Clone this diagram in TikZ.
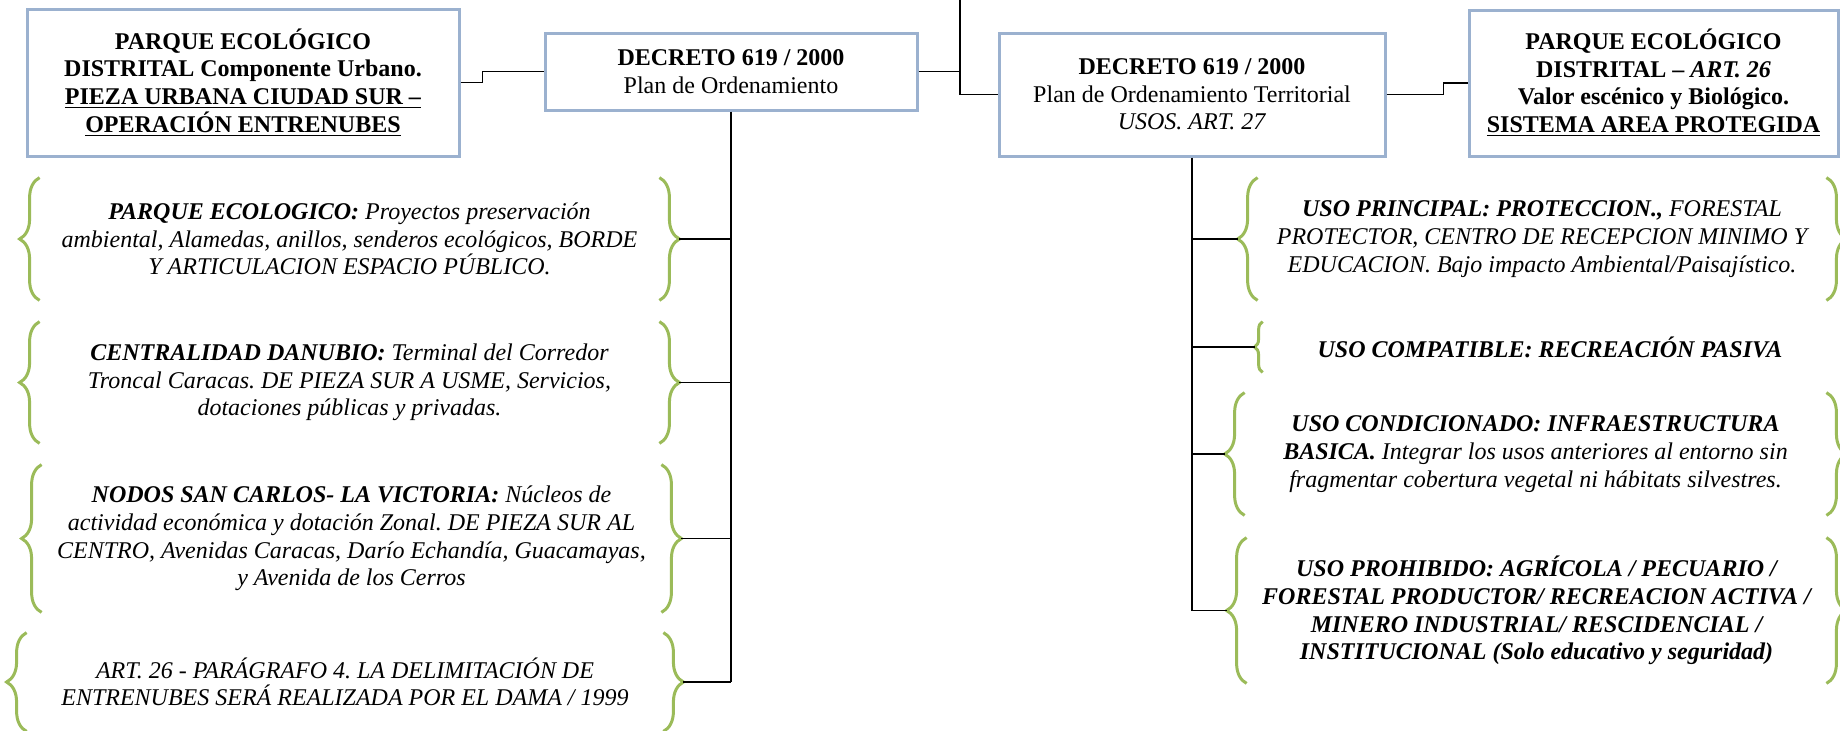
\documentclass[tikz,border=0pt]{standalone}
\usepackage{fontspec}
\setmainfont{Liberation Serif}
\usetikzlibrary{decorations.pathreplacing}
\definecolor{bordeazul}{HTML}{9BB1CF}
\definecolor{llaveverde}{HTML}{9BBB59}
\frenchspacing

\begin{document}
\begin{tikzpicture}[x=0.5pt,y=-0.5pt,
	font=\fontsize{12}{13.8}\selectfont,
	caja/.style={draw=bordeazul,line width=1.5pt,align=center,inner sep=0pt},
	nota/.style={align=center,inner sep=0pt,font=\fontsize{12}{13.8}\selectfont\itshape},
	llave/.style={draw=llaveverde,line width=1.5pt,decorate,decoration={brace,amplitude=#1}},
	llave/.default=10pt,
	linea/.style={draw,line width=0.8pt}
]
\useasboundingbox (0,0) rectangle (1840,730);

\node[caja,minimum width=216pt,minimum height=73.5pt] (parque) at (243,82.5) {\textbf{PARQUE ECOLÓGICO}\\\textbf{DISTRITAL Componente Urbano.}\\\textbf{\underline{PIEZA URBANA CIUDAD SUR –}}\\\textbf{\underline{OPERACIÓN ENTRENUBES}}};
\node[caja,minimum width=186pt,minimum height=38.5pt] (decreto) at (731,71.5) {\textbf{DECRETO 619 / 2000}\\Plan de Ordenamiento};
\node[caja,minimum width=193pt,minimum height=61.5pt] (usos) at (1192,94.5) {\textbf{DECRETO 619 / 2000}\\Plan de Ordenamiento Territorial\\\textit{USOS. ART. 27}};
\node[caja,minimum width=184.5pt,minimum height=73pt] (distrital) at (1653.5,83) {\textbf{PARQUE ECOLÓGICO}\\\textbf{DISTRITAL – \textit{ART. 26}}\\\textbf{Valor escénico y Biológico.}\\\textbf{\underline{SISTEMA AREA PROTEGIDA}}};
\coordinate (arriba) at (960,0);

\node[nota,minimum width=309.5pt,minimum height=61pt] (ecologico) at (349.5,239) {\textbf{PARQUE ECOLOGICO:} Proyectos preservación\\ambiental, Alamedas, anillos, senderos ecológicos, BORDE\\Y ARTICULACION ESPACIO PÚBLICO.};
\node[nota,minimum width=309.5pt,minimum height=60.5pt] (danubio) at (349.5,382.5) {\textbf{CENTRALIDAD DANUBIO:} Terminal del Corredor\\Troncal Caracas. DE PIEZA SUR A USME, Servicios,\\dotaciones públicas y privadas.};
\node[nota,minimum width=309.5pt,minimum height=73.5pt] (nodos) at (351.5,538.5) {\textbf{NODOS SAN CARLOS- LA VICTORIA:} Núcleos de\\actividad económica y dotación Zonal. DE PIEZA SUR AL\\CENTRO, Avenidas Caracas, Darío Echandía, Guacamayas,\\y Avenida de los Cerros};
\node[nota,minimum width=318pt,minimum height=49pt] (paragrafo) at (345,682) {ART. 26 - PARÁGRAFO 4. LA DELIMITACIÓN DE\\ENTRENUBES SERÁ REALIZADA POR EL DAMA / 1999};

\node[nota,minimum width=284pt,minimum height=61pt] (principal) at (1542,239) {\textbf{USO PRINCIPAL: PROTECCION.,} FORESTAL\\PROTECTOR, CENTRO DE RECEPCION MINIMO Y\\EDUCACION. Bajo impacto Ambiental/Paisajístico.};
\node[nota,minimum width=287pt,minimum height=25pt] (compatible) at (1550,347) {\textbf{USO COMPATIBLE: RECREACIÓN PASIVA}};
\node[nota,minimum width=290.5pt,minimum height=61pt] (condicionado) at (1535.5,454) {\textbf{USO CONDICIONADO: INFRAESTRUCTURA}\\\textbf{BASICA.} Integrar los usos anteriores al entorno sin\\fragmentar cobertura vegetal ni hábitats silvestres.};
\node[nota,minimum width=289.5pt,minimum height=72.5pt] (prohibido) at (1536.5,610.5) {\textbf{USO PROHIBIDO: AGRÍCOLA / PECUARIO /}\\\textbf{FORESTAL PRODUCTOR/ RECREACION ACTIVA /}\\\textbf{MINERO INDUSTRIAL/ RESCIDENCIAL /}\\\textbf{INSTITUCIONAL (Solo educativo y seguridad)}};

\foreach \n in {ecologico,danubio,nodos,paragrafo,principal,condicionado,prohibido}{
\draw[llave] (\n.south west) -- (\n.north west);
\draw[llave] (\n.north east) -- (\n.south east);
}
\draw[llave=4pt] (compatible.south west) -- (compatible.north west);

\draw[linea] (parque.east) -- ++(22,0) |- (decreto.west);
\draw[linea] (decreto.east) -| (arriba);
\draw[linea] (arriba) |- (usos.west);
\draw[linea] (usos.east) -- ++(57,0) |- (distrital.west);

\draw[linea] (decreto.south) -- (paragrafo.east -| decreto.south);
\foreach \n in {ecologico,danubio,nodos,paragrafo}
\draw[linea] ([xshift=10pt]\n.east) -- (\n.east -| decreto.south);
\draw[linea] (usos.south) -- (prohibido.west -| usos.south);
\foreach \n in {principal,condicionado,prohibido}
\draw[linea] ([xshift=-10pt]\n.west) -- (\n.west -| usos.south);
\draw[linea] ([xshift=-4pt]compatible.west) -- (compatible.west -| usos.south);
\end{tikzpicture}
\end{document}
